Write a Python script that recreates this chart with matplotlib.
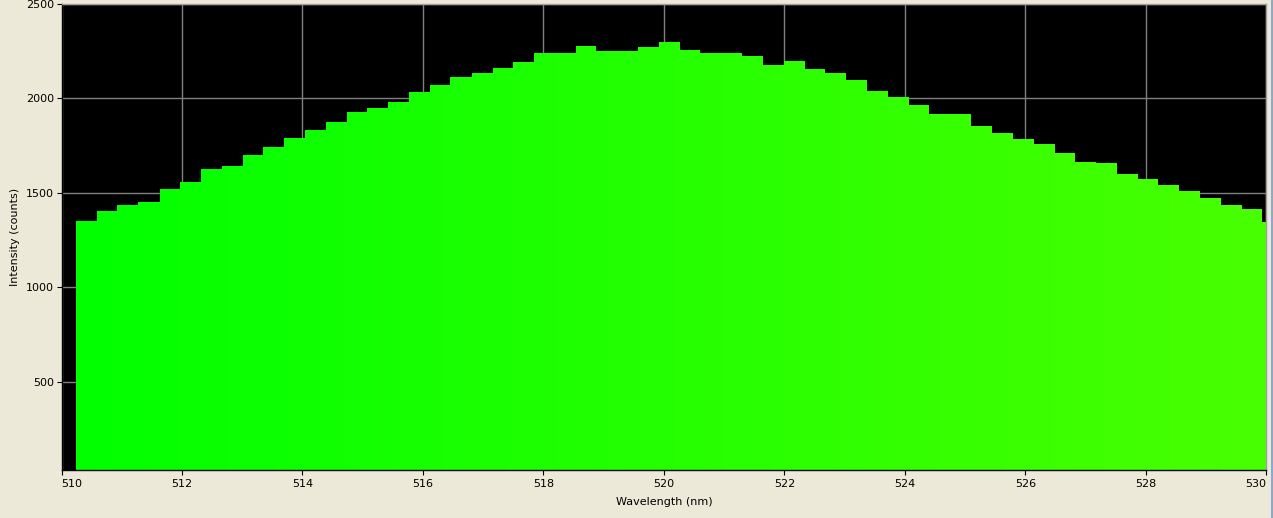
import numpy as np
import matplotlib
matplotlib.use("Agg")
import matplotlib.pyplot as plt
from matplotlib.lines import Line2D

# spectrometer bins (centre wavelength, nm) and intensity (counts)
WAVELENGTH = [
    510.41, 510.76, 511.10, 511.45, 511.80, 512.14, 512.49, 512.83, 513.18, 513.52,
    513.87, 514.21, 514.56, 514.91, 515.25, 515.60, 515.94, 516.29, 516.63, 516.98,
    517.33, 517.67, 518.02, 518.36, 518.71, 519.05, 519.40, 519.74, 520.09, 520.44,
    520.78, 521.13, 521.47, 521.82, 522.16, 522.51, 522.85, 523.20, 523.55, 523.89,
    524.24, 524.58, 524.93, 525.27, 525.62, 525.97, 526.31, 526.66, 527.00, 527.35,
    527.69, 528.04, 528.38, 528.73, 529.08, 529.42, 529.77, 530.11,
]
COUNTS = [
    1352, 1404, 1436, 1452, 1521, 1558, 1626, 1642, 1700, 1742,
    1790, 1832, 1874, 1927, 1948, 1980, 2033, 2070, 2112, 2133,
    2159, 2191, 2239, 2239, 2276, 2249, 2249, 2270, 2297, 2254,
    2239, 2239, 2223, 2175, 2196, 2154, 2133, 2096, 2038, 2006,
    1964, 1917, 1917, 1853, 1816, 1785, 1758, 1711, 1663, 1658,
    1600, 1573, 1542, 1510, 1473, 1436, 1415, 1346,
]
X_TICKS = [510, 512, 514, 516, 518, 520, 522, 524, 526, 528, 530]
Y_TICKS = [500, 1000, 1500, 2000, 2500]

BIN_W = 0.3456
XMIN, XMAX = 510, 530
YMIN, YMAX = 35, 2500

W, H = 1273, 518
fig = plt.figure(figsize=(W / 100, H / 100), dpi=100, facecolor="#ECE9D8")
ax = fig.add_axes([61.5 / W, (H - 470) / H, (1266.2 - 61.5) / W, (470 - 3.5) / H])
ax.set_facecolor("black")

centers = np.array(WAVELENGTH)
edges = np.append(centers - BIN_W / 2, centers[-1] + BIN_W / 2)
patch = ax.stairs(COUNTS, edges, fill=True, baseline=0, color="none", zorder=2)

# wavelength colour: red ramps in over 510-580 nm, green full
xs = np.linspace(XMIN, XMAX, 1205)
rgb = np.zeros((2, xs.size, 3))
rgb[..., 0] = np.clip((xs - 510) / 70, 0, 1)
rgb[..., 1] = 1.0
img = ax.imshow(rgb, extent=[XMIN, XMAX, YMIN, YMAX], aspect="auto",
                origin="lower", interpolation="bilinear", zorder=2)
img.set_clip_path(patch)

ax.set_xlim(XMIN, XMAX)
ax.set_ylim(YMIN, YMAX)
ax.set_xticks(X_TICKS)
ax.set_yticks(Y_TICKS)
ax.set_axisbelow(True)
ax.grid(True, color="#808080", linewidth=1.0)

ax.tick_params(direction="out", length=3.5, width=0.8, colors="black",
               labelsize=8)
ax.tick_params(axis="x", pad=3)
ax.tick_params(axis="y", pad=2)
xlabels = ax.get_xticklabels()
xlabels[0].set_horizontalalignment("left")
xlabels[-1].set_horizontalalignment("right")

for side in ("left", "bottom"):
    ax.spines[side].set_color("black")
    ax.spines[side].set_linewidth(1.0)
for side in ("top", "right"):
    ax.spines[side].set_color("#A0A0A0")
    ax.spines[side].set_linewidth(1.0)

ax.set_xlabel("Wavelength (nm)", fontsize=8, labelpad=6)
ax.set_ylabel("Intensity (counts)", fontsize=8, labelpad=4)

# window border on the right
fig.add_artist(Line2D([1 - 0.6 / W, 1 - 0.6 / W], [0, 1], color="#7A9CC6",
                      linewidth=1.2, transform=fig.transFigure))

fig.savefig("out.png", dpi=100, facecolor=fig.get_facecolor())
